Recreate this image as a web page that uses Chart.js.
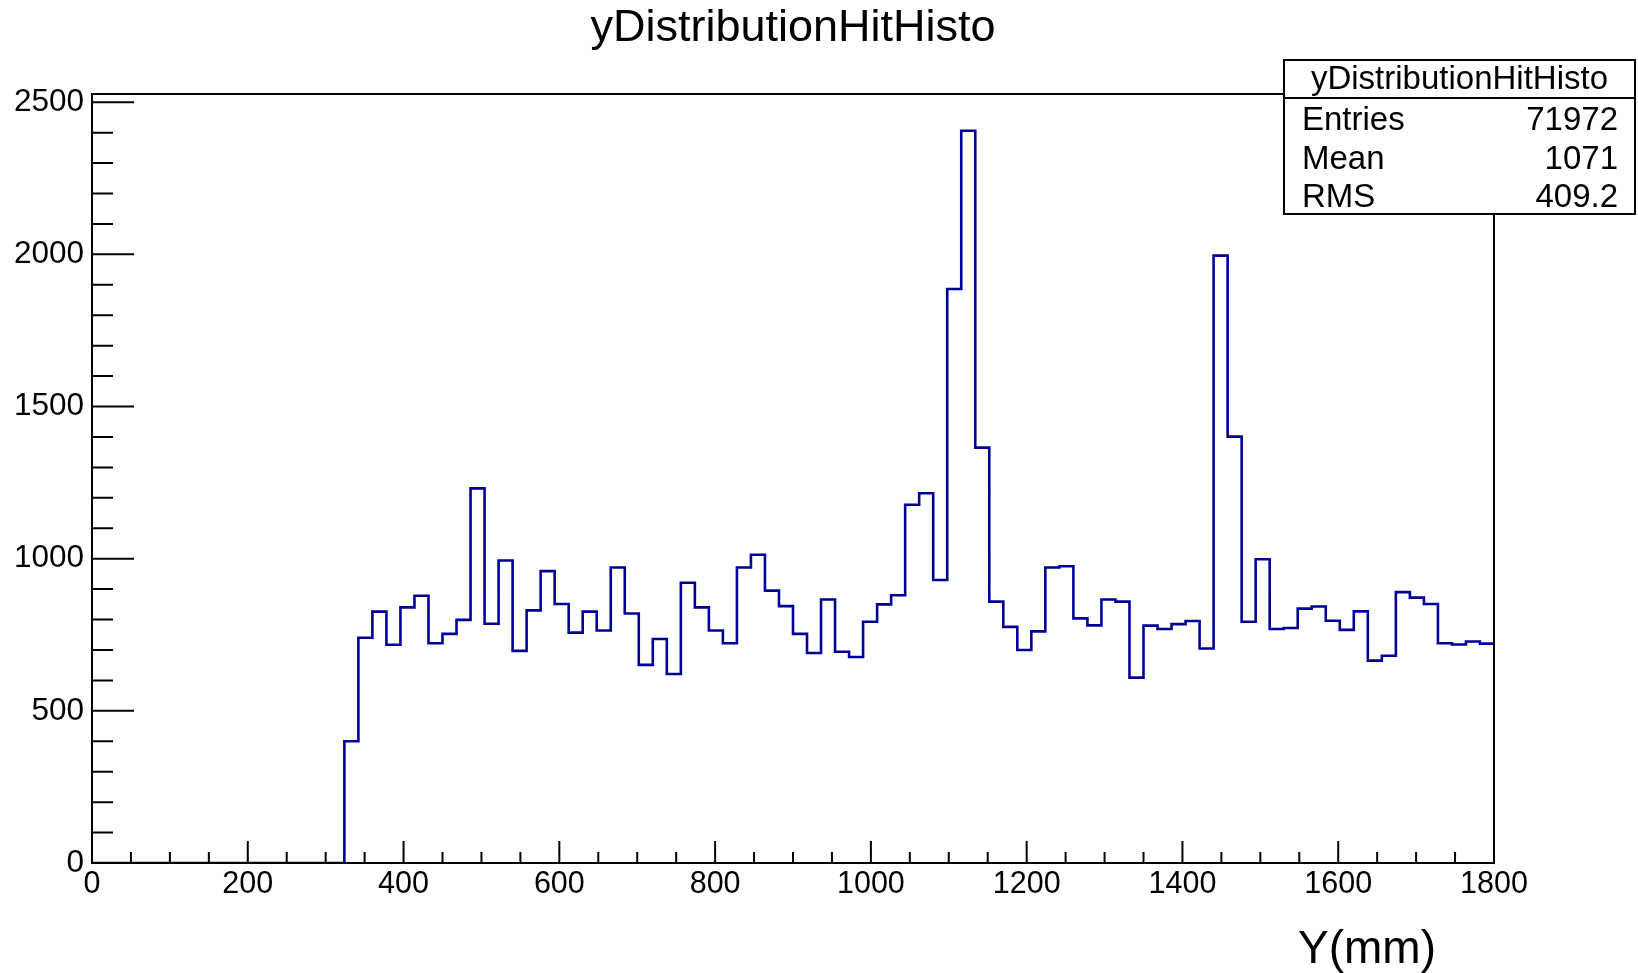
<!DOCTYPE html>
<html>
<head>
<meta charset="utf-8">
<title>yDistributionHitHisto</title>
<script src="https://cdn.jsdelivr.net/npm/chart.js@4.4.1/dist/chart.umd.min.js"></script>
<style>
  body { margin: 0; background: #fff; }
  canvas { display: block; }
</style>
</head>
<body>
<canvas id="histo" width="1638" height="973"></canvas>
<script>
// histogram binning: 100 bins from 0 to 1800 mm
const xMin = 0;
const xMax = 1800;
const binWidth = 18;
const yMax = 2527;

// axis tick labels
const xTickValues = [0, 200, 400, 600, 800, 1000, 1200, 1400, 1600, 1800];
const yTickValues = [0, 500, 1000, 1500, 2000, 2500];

// counts per bin
const binCounts = [
    0,    0,    0,    0,    0,    0,    0,    0,    0,    0,
    0,    0,    0,    0,    0,    0,    0,    0,  400,  740,
  826,  717,  840,  878,  722,  753,  799, 1231,  786,  994,
  697,  830,  959,  851,  757,  826,  764,  971,  820,  651,
  736,  621,  921,  840,  764,  722,  971, 1013,  895,  844,
  753,  690,  866,  694,  677,  793,  850,  880, 1177, 1215,
  930, 1886, 2406, 1365,  859,  776,  700,  761,  971,  975,
  804,  781,  866,  859,  609,  780,  769,  785,  795,  705,
 1996, 1401,  793,  998,  769,  772,  836,  843,  796,  766,
  827,  665,  681,  890,  872,  851,  722,  718,  728,  721
];

const histTitle = 'yDistributionHitHisto';
const xAxisTitle = 'Y(mm)';
const statLabels = ['Entries', 'Mean', 'RMS'];
const statValues = ['71972', '1071', '409.2'];

const FONT = "'Liberation Sans', Arial, Helvetica, sans-serif";

// outline points at the low edge of each bin, plus the closing edge
const points = binCounts.map((c, i) => ({ x: xMin + i * binWidth, y: c }));
points.push({ x: xMax, y: binCounts[binCounts.length - 1] });

// ROOT style frame with inward ticks, stats box and axis title
const rootFrame = {
    id: 'rootFrame',
    afterDraw(chart) {
        const ctx = chart.ctx;
        const area = chart.chartArea;
        const xs = chart.scales.x;
        const ys = chart.scales.y;
        ctx.save();
        ctx.strokeStyle = '#000';
        ctx.lineWidth = 2;
        ctx.strokeRect(area.left, area.top, area.right - area.left, area.bottom - area.top);

        ctx.beginPath();
        for (let v = 0; v <= yMax; v += 100) {
            const py = ys.getPixelForValue(v);
            const len = v % 500 === 0 ? 42 : 21;
            ctx.moveTo(area.left, py);
            ctx.lineTo(area.left + len, py);
        }
        for (let v = xMin; v <= xMax; v += 50) {
            const px = xs.getPixelForValue(v);
            const len = v % 200 === 0 ? 22 : 11;
            ctx.moveTo(px, area.bottom);
            ctx.lineTo(px, area.bottom - len);
        }
        ctx.stroke();

        // stats box
        const bx = 1284, by = 60, bw = 351, bh = 154;
        ctx.fillStyle = '#fff';
        ctx.fillRect(bx, by, bw, bh);
        ctx.strokeRect(bx, by, bw, bh);
        ctx.beginPath();
        ctx.moveTo(bx, by + 38);
        ctx.lineTo(bx + bw, by + 38);
        ctx.stroke();

        ctx.fillStyle = '#000';
        ctx.textBaseline = 'middle';
        ctx.font = '33px ' + FONT;
        ctx.textAlign = 'center';
        ctx.fillText(histTitle, bx + bw / 2, by + 20);
        statLabels.forEach((label, i) => {
            const ty = by + 61 + i * 38.5;
            ctx.textAlign = 'left';
            ctx.fillText(label, bx + 18, ty);
            ctx.textAlign = 'right';
            ctx.fillText(statValues[i], bx + bw - 17, ty);
        });

        // x axis title
        ctx.font = '46px ' + FONT;
        ctx.textAlign = 'right';
        ctx.textBaseline = 'alphabetic';
        ctx.fillText(xAxisTitle, 1436, 963);
        ctx.restore();
    }
};

new Chart(document.getElementById('histo').getContext('2d'), {
    type: 'line',
    data: {
        datasets: [{
            label: histTitle,
            data: points,
            stepped: true,
            borderColor: '#000099',
            borderWidth: 2.6,
            pointRadius: 0,
            fill: false
        }]
    },
    options: {
        responsive: false,
        animation: false,
        events: [],
        layout: { padding: { top: 0, right: 144, bottom: 0, left: 0 } },
        plugins: {
            legend: { display: false },
            tooltip: { enabled: false },
            title: {
                display: true,
                text: histTitle,
                fullSize: false,
                color: '#000',
                font: { family: FONT, size: 45, weight: 'normal' },
                padding: { top: 2, bottom: 38 }
            }
        },
        scales: {
            x: {
                type: 'linear',
                min: xMin,
                max: xMax,
                grid: { display: false, drawTicks: false },
                border: { display: false },
                afterBuildTicks: scale => { scale.ticks = xTickValues.map(v => ({ value: v })); },
                ticks: {
                    autoSkip: false,
                    maxRotation: 0,
                    padding: 3,
                    color: '#000',
                    font: { family: FONT, size: 30.5 },
                    callback: v => String(v)
                },
                afterFit: scale => { scale.height = 110; }
            },
            y: {
                type: 'linear',
                min: 0,
                max: yMax,
                grid: { display: false, drawTicks: false },
                border: { display: false },
                afterBuildTicks: scale => { scale.ticks = yTickValues.map(v => ({ value: v })); },
                ticks: {
                    autoSkip: false,
                    padding: 8,
                    color: '#000',
                    font: { family: FONT, size: 31.5 },
                    callback: v => String(v)
                },
                afterFit: scale => { scale.width = 92; }
            }
        }
    },
    plugins: [rootFrame]
});
</script>
</body>
</html>
